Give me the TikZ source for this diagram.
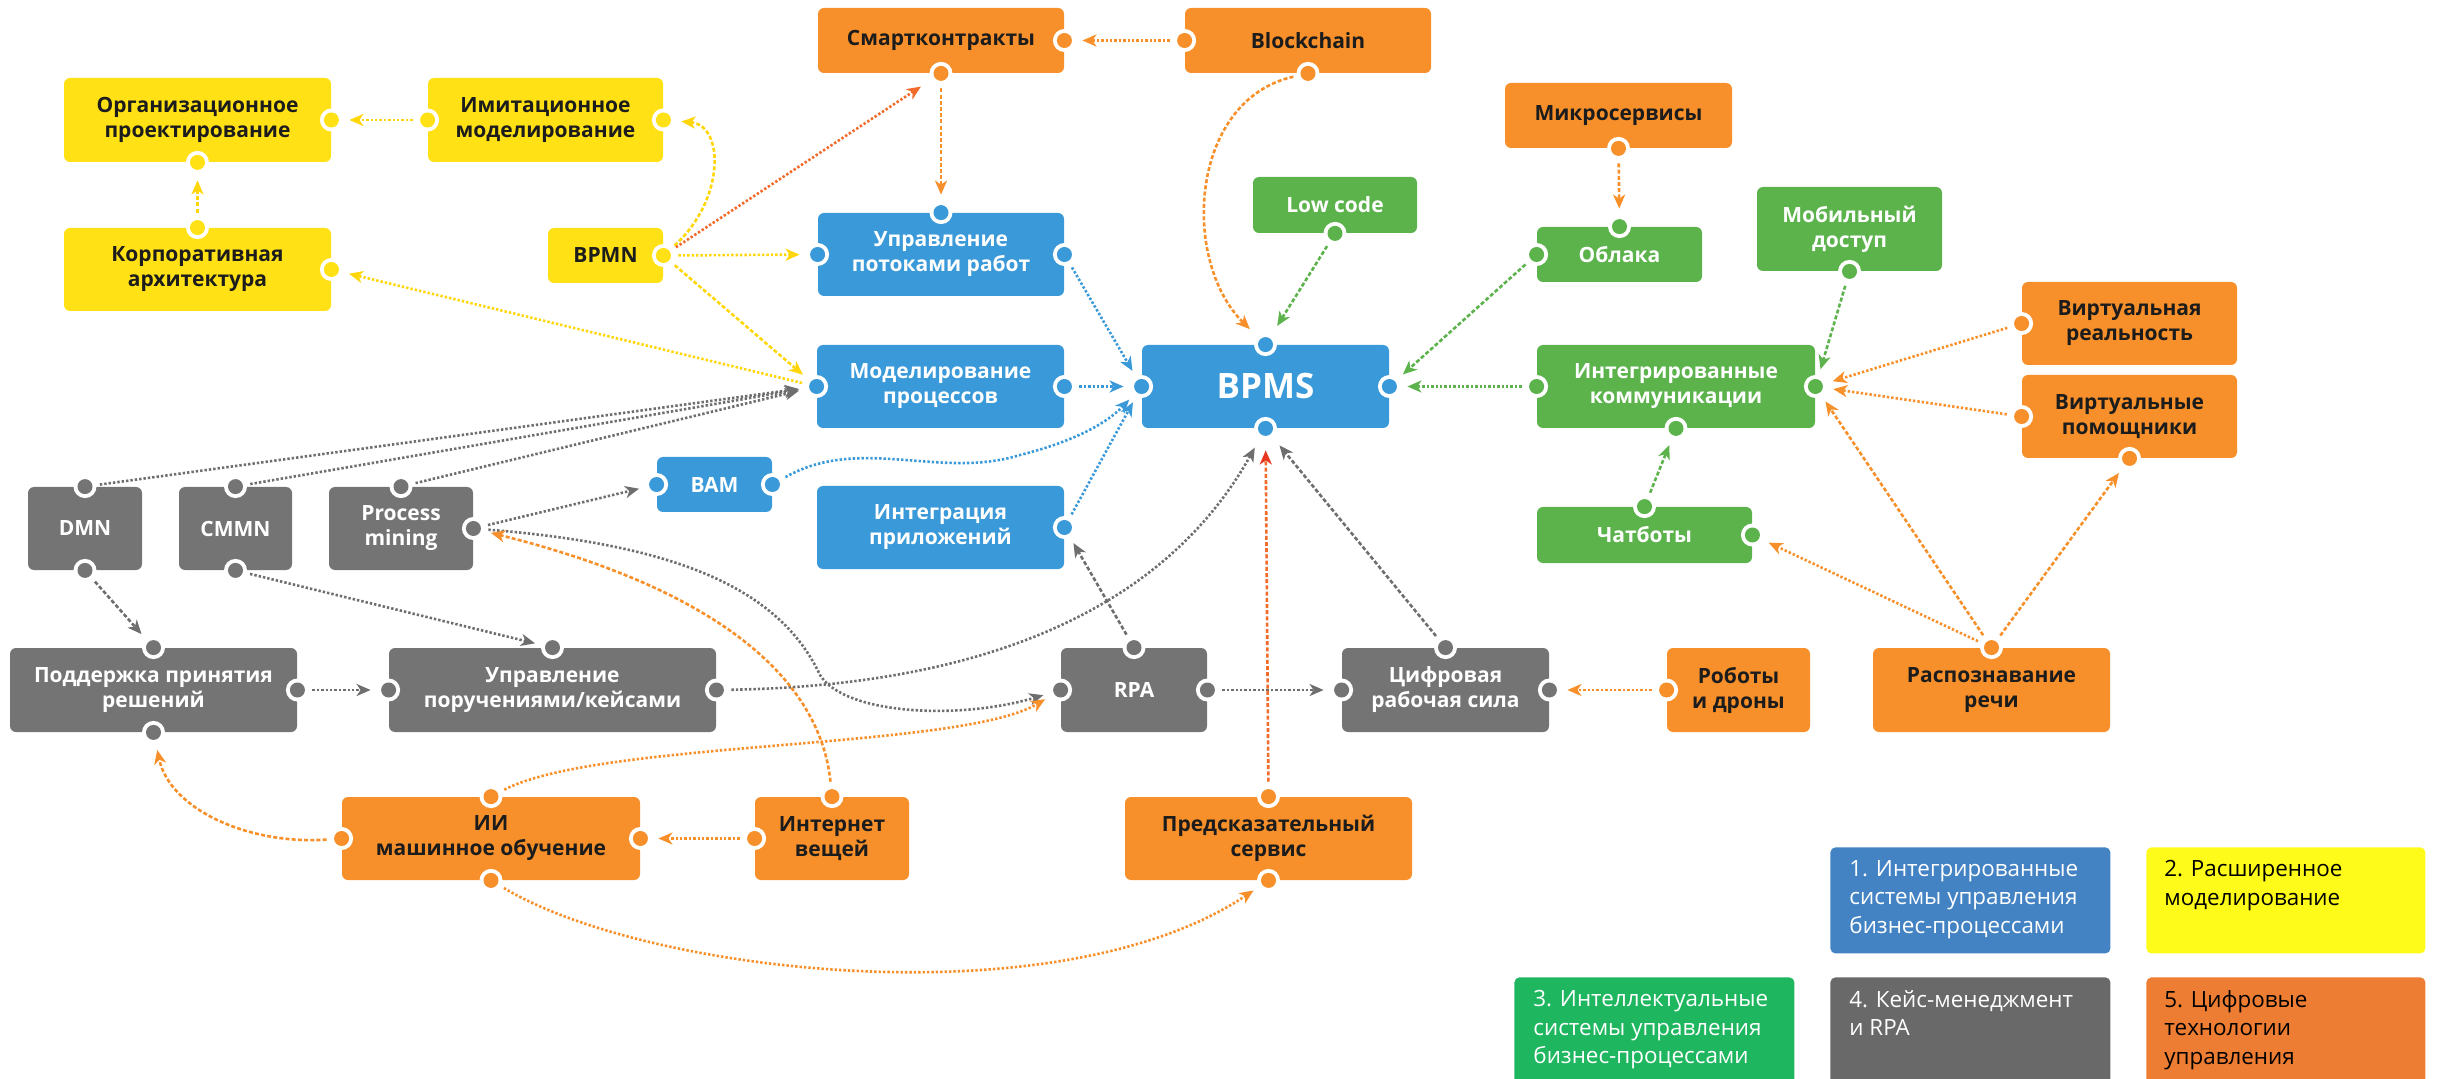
\documentclass[tikz,border=0pt]{standalone}
\usepackage{fontspec}
\setmainfont{Open Sans}
\usetikzlibrary{arrows.meta}

\definecolor{cy}{HTML}{FFE115}
\definecolor{co}{HTML}{F7902A}
\definecolor{cb}{HTML}{3A99D8}
\definecolor{cg}{HTML}{5CB34C}
\definecolor{ck}{HTML}{747474}
\definecolor{ly}{HTML}{FFD60A}
\definecolor{lo}{HTML}{F7902A}
\definecolor{lr}{HTML}{F26B2A}
\definecolor{lred}{HTML}{E8361F}
\definecolor{lb}{HTML}{3A99D8}
\definecolor{lg}{HTML}{5CB34C}
\definecolor{lk}{HTML}{6E6E6E}
\definecolor{txt}{HTML}{1C1C1C}
\definecolor{gb}{HTML}{4382C3}
\definecolor{gy}{HTML}{FEFB1A}
\definecolor{gg}{HTML}{1EB65F}
\definecolor{gk}{HTML}{696969}
\definecolor{go}{HTML}{ED7D32}

\tikzset{
  box/.style={rectangle, rounded corners=3pt, inner sep=0pt, align=center,
    font=\fontsize{10.5pt}{12.5pt}\selectfont\bfseries},
  ybox/.style={box, fill=cy, text=txt},
  obox/.style={box, fill=co, text=txt},
  bbox/.style={box, fill=cb, text=white},
  gbox/.style={box, fill=cg, text=white},
  kbox/.style={box, fill=ck, text=white},
  conn/.style={line width=1.3pt, shorten <=7.5pt, shorten >=9pt,
    -{Stealth[length=7pt,width=6pt,inset=2pt]}},
  dotln/.style={conn, dash pattern=on 1.2pt off 1pt},
  dashln/.style={conn, dash pattern=on 2pt off 1.1pt},
  far/.style={shorten >=11pt},
  legbox/.style={rectangle, rounded corners=2.5pt, inner sep=0pt},
  legtext/.style={anchor=north west, inner sep=0pt, align=left,
    font=\fontsize{11.2pt}{14.2pt}\selectfont},
}

\newcommand\bx[7]{\node[#2, minimum width={(#5-#3)*0.5pt}, minimum height={(#6-#4)*0.5pt}] (#1) at ({(#3+#5)/2},{(#4+#6)/2}) {#7};}
\newcommand\port[2]{\fill[white] (#1) circle[radius=5.75pt]; \fill[#2] (#1) circle[radius=3.75pt];}

\begin{document}
\begin{tikzpicture}[x=0.5pt, y=-0.5pt]
\useasboundingbox (0,0) rectangle (2440,1079);

% boxes
\bx{org}{ybox}{64}{78}{331}{162}{Организационное\\проектирование}
\bx{imit}{ybox}{428}{78}{663}{162}{Имитационное\\моделирование}
\bx{korp}{ybox}{64}{228}{331}{311}{Корпоративная\\архитектура}
\bx{bpmn}{ybox}{548}{228}{663}{283}{BPMN}
\bx{smart}{obox}{818}{8}{1064}{73}{Смартконтракты}
\bx{block}{obox}{1185}{8}{1431}{73}{Blockchain}
\bx{upr}{bbox}{818}{213}{1064}{296}{Управление\\потоками работ}
\bx{model}{bbox}{817}{345}{1064}{428}{Моделирование\\процессов}
\bx{bam}{bbox}{657}{457}{772}{512}{BAM}
\bx{integ}{bbox}{817}{486}{1064}{569}{Интеграция\\приложений}
\bx{bpms}{bbox, font=\fontsize{17.5pt}{20pt}\selectfont\bfseries}{1142}{345}{1389}{428}{BPMS}
\bx{low}{gbox}{1253}{177}{1417}{233}{Low code}
\bx{micro}{obox}{1505}{83}{1732}{148}{Микросервисы}
\bx{obl}{gbox}{1537}{227}{1702}{282}{Облака}
\bx{mob}{gbox}{1757}{187}{1942}{271}{Мобильный\\доступ}
\bx{intc}{gbox}{1537}{345}{1815}{428}{Интегрированные\\коммуникации}
\bx{vr}{obox}{2022}{282}{2237}{365}{Виртуальная\\реальность}
\bx{va}{obox}{2022}{375}{2237}{458}{Виртуальные\\помощники}
\bx{chat}{gbox}{1537}{507}{1752}{563}{Чатботы}
\bx{dmn}{kbox}{28}{487}{142}{570}{DMN}
\bx{cmmn}{kbox}{179}{487}{292}{570}{CMMN}
\bx{pm}{kbox}{329}{487}{473}{570}{Process\\mining}
\bx{sup}{kbox}{10}{648}{297}{732}{Поддержка принятия\\решений}
\bx{uprk}{kbox}{389}{648}{716}{732}{Управление\\поручениями/кейсами}
\bx{rpa}{kbox}{1061}{648}{1207}{732}{RPA}
\bx{cif}{kbox}{1342}{648}{1549}{732}{Цифровая\\рабочая сила}
\bx{rob}{obox}{1667}{648}{1810}{732}{Роботы\\и дроны}
\bx{rec}{obox}{1873}{648}{2110}{732}{Распознавание\\речи}
\bx{ii}{obox}{342}{797}{640}{880}{ИИ\\машинное обучение}
\bx{iot}{obox}{755}{797}{909}{880}{Интернет\\вещей}
\bx{pred}{obox}{1125}{797}{1412}{880}{Предсказательный\\сервис}

% ports
\port{org.east}{cy}\port{org.south}{cy}
\port{imit.west}{cy}\port{imit.east}{cy}
\port{korp.north}{cy}\port{korp.east}{cy}
\port{bpmn.east}{cy}
\port{smart.east}{co}\port{smart.south}{co}
\port{block.west}{co}\port{block.south}{co}
\port{upr.north}{cb}\port{upr.west}{cb}\port{upr.east}{cb}
\port{model.west}{cb}\port{model.east}{cb}
\port{bam.west}{cb}\port{bam.east}{cb}
\port{integ.east}{cb}
\port{bpms.north}{cb}\port{bpms.west}{cb}\port{bpms.east}{cb}\port{bpms.south}{cb}
\port{low.south}{cg}
\port{micro.south}{co}
\port{obl.north}{cg}\port{obl.west}{cg}
\port{mob.south}{cg}
\port{intc.west}{cg}\port{intc.east}{cg}\port{intc.south}{cg}
\port{vr.west}{co}
\port{va.west}{co}\port{va.south}{co}
\port{chat.north}{cg}\port{chat.east}{cg}
\port{dmn.north}{ck}\port{dmn.south}{ck}
\port{cmmn.north}{ck}\port{cmmn.south}{ck}
\port{pm.north}{ck}\port{pm.east}{ck}
\port{sup.north}{ck}\port{sup.east}{ck}\port{sup.south}{ck}
\port{uprk.north}{ck}\port{uprk.west}{ck}\port{uprk.east}{ck}
\port{rpa.north}{ck}\port{rpa.west}{ck}\port{rpa.east}{ck}
\port{cif.north}{ck}\port{cif.west}{ck}\port{cif.east}{ck}
\port{rob.west}{co}
\port{rec.north}{co}
\port{ii.north}{co}\port{ii.west}{co}\port{ii.east}{co}\port{ii.south}{co}
\port{iot.north}{co}\port{iot.west}{co}
\port{pred.north}{co}\port{pred.south}{co}

% connectors
\draw[dotln, ly] (imit.west) -- (org.east);
\draw[dashln, ly] (korp.north) -- (org.south);
\draw[dashln, ly] (bpmn.east) .. controls (725,200) and (725,125) .. (imit.east);
\draw[dotln, lr, shorten >=12pt] (bpmn.east) -- (smart.south);
\draw[dotln, ly] (bpmn.east) -- (upr.west);
\draw[dashln, ly] (bpmn.east) -- (model.west);
\draw[dotln, ly] (model.west) -- (korp.east);
\draw[dashln, lo] (smart.south) -- (upr.north);
\draw[dotln, lo] (block.west) -- (smart.east);
\draw[dashln, lo, far] (block.south) .. controls (1190,100) and (1180,260) .. (bpms.north);
\draw[dashln, lg, far] (low.south) -- (bpms.north);
\draw[dotln, lb] (upr.east) -- (bpms.west);
\draw[dotln, lb] (model.east) -- (bpms.west);
\draw[dotln, lb] (integ.east) -- (bpms.west);
\draw[dotln, lb] (bam.east) .. controls (860,435) and (940,480) .. (1020,455) .. controls (1080,440) and (1110,420) .. (bpms.west);
\draw[dashln, lo] (micro.south) -- (obl.north);
\draw[dashln, lg] (obl.west) -- (bpms.east);
\draw[dotln, lg] (intc.west) -- (bpms.east);
\draw[dashln, lg] (mob.south) -- (intc.east);
\draw[dotln, lo] (vr.west) -- (intc.east);
\draw[dotln, lo] (va.west) -- (intc.east);
\draw[dashln, lo] (rec.north) -- (intc.east);
\draw[dashln, lo] (rec.north) -- (va.south);
\draw[dotln, lo] (rec.north) -- (chat.east);
\draw[dashln, lg] (chat.north) -- (intc.south);
\draw[dotln, lk] (dmn.north) -- (model.west);
\draw[dotln, lk] (cmmn.north) -- (model.west);
\draw[dotln, lk] (pm.north) -- (model.west);
\draw[dotln, lk] (pm.east) -- (bam.west);
\draw[dotln, lk] (pm.east) .. controls (680,545) and (780,590) .. (820,675) .. controls (845,715) and (960,720) .. (rpa.west);
\draw[dashln, lk] (dmn.south) -- (sup.north);
\draw[dotln, lk] (cmmn.south) -- (uprk.north);
\draw[dotln, lk] (sup.east) -- (uprk.west);
\draw[dotln, lk, far] (uprk.east) .. controls (1000,685) and (1170,600) .. (bpms.south);
\draw[dashln, lk] (rpa.north) -- (integ.east);
\draw[dotln, lk] (rpa.east) -- (cif.west);
\draw[dashln, lk, far] (cif.north) -- (bpms.south);
\draw[dashln, lr, far, -{Stealth[length=7pt,width=6pt,inset=2pt,color=lred]}] (pred.north) -- (bpms.south);
\draw[dotln, lo] (rob.west) -- (cif.east);
\draw[dashln, lo] (iot.north) .. controls (820,680) and (720,590) .. (pm.east);
\draw[dotln, lo] (iot.west) -- (ii.east);
\draw[dotln, lo] (ii.north) .. controls (600,740) and (960,750) .. (rpa.west);
\draw[dashln, lo] (ii.west) .. controls (250,845) and (170,810) .. (sup.south);
\draw[dotln, lo] (ii.south) .. controls (650,975) and (1060,1020) .. (pred.south);

% legend
\node[legbox, fill=gb, minimum width=140pt, minimum height=53pt, anchor=north west] (leg1) at (1830,847) {};
\node[legbox, fill=gy, minimum width=139.5pt, minimum height=53pt, anchor=north west] (leg2) at (2146,847) {};
\node[legbox, fill=gg, minimum width=140pt, minimum height=60pt, anchor=north west] (leg3) at (1514,977) {};
\node[legbox, fill=gk, minimum width=140pt, minimum height=60pt, anchor=north west] (leg4) at (1830,977) {};
\node[legbox, fill=go, minimum width=139.5pt, minimum height=60pt, anchor=north west] (leg5) at (2146,977) {};
\node[legtext, text=white] (t1) at (1849,860) {1. Интегрированные\\системы управления\\бизнес-процессами};
\node[legtext, text=black] (t2) at (2164,860) {2. Расширенное\\моделирование};
\node[legtext, text=white] (t3) at (1533,990) {3. Интеллектуальные\\системы управления\\бизнес-процессами};
\node[legtext, text=white] (t4) at (1849,990) {4. Кейс-менеджмент\\и RPA};
\node[legtext, text=black] (t5) at (2164,990) {5. Цифровые\\технологии\\управления};
\end{tikzpicture}
\end{document}
